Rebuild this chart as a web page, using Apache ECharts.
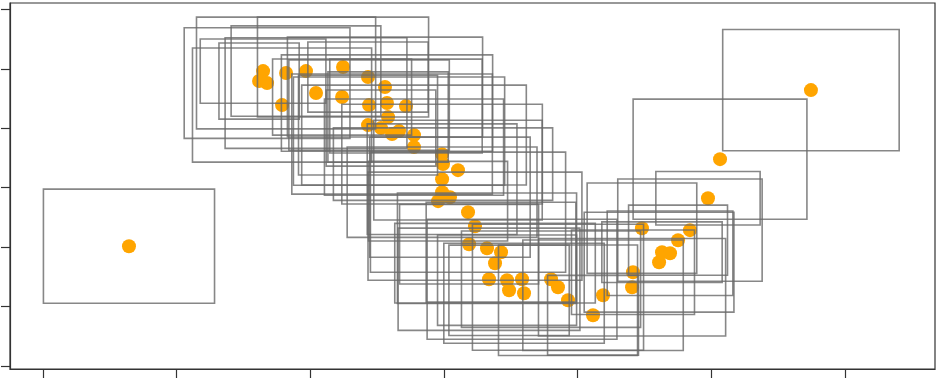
<!DOCTYPE html>
<html>
<head>
<meta charset="utf-8">
<script src="https://cdn.jsdelivr.net/npm/echarts@6/dist/echarts.min.js"></script>
<style>
    html, body { margin: 0; padding: 0; background: #fff; }
    #chart { width: 941px; height: 390px; }
</style>
</head>
<body>
<div id="chart"></div>
<script>
// point centres, with half-width / half-height of the box drawn around each one
const xValues = [
    0.645, 1.648, 1.618, 1.678, 1.820, 1.969, 1.790, 2.044, 2.246, 2.239,
    2.433, 2.560, 2.441, 2.575, 2.717, 2.583, 2.433, 2.530, 2.613, 2.665,
    2.777, 2.777, 2.987, 2.994, 3.106, 2.987, 2.987, 3.046, 2.957, 3.181,
    3.233, 3.189, 3.323, 3.428, 3.383, 3.338, 3.473, 3.585, 3.488, 3.600,
    3.802, 3.854, 3.929, 4.116, 4.191, 4.415, 4.408, 4.482, 4.610, 4.632,
    4.692, 4.752, 4.841, 4.976, 5.066, 5.746
];
const yValues = [
    2.015, 4.961, 4.793, 4.759, 4.928, 4.961, 4.389, 4.591, 5.029, 4.524,
    4.860, 4.692, 4.389, 4.423, 4.372, 4.187, 4.052, 4.002, 3.901, 3.951,
    3.884, 3.682, 3.564, 3.396, 3.295, 3.143, 2.924, 2.840, 2.773, 2.588,
    2.352, 2.049, 1.981, 1.914, 1.729, 1.460, 1.443, 1.460, 1.274, 1.224,
    1.460, 1.325, 1.106, 0.854, 1.190, 1.577, 1.325, 2.318, 1.746, 1.914,
    1.897, 2.116, 2.285, 2.823, 3.480, 4.641
];
const halfWidths = [
    0.64, 0.47, 0.30, 0.62, 0.67, 0.56, 0.67, 0.68, 0.64, 0.52,
    0.45, 0.73, 0.60, 0.79, 0.57, 0.45, 0.52, 0.41, 0.75, 0.79,
    0.84, 0.67, 0.75, 0.82, 0.63, 0.56, 0.71, 0.60, 0.52, 0.73,
    0.80, 0.52, 0.67, 0.56, 0.75, 0.68, 0.52, 0.71, 0.45, 0.60,
    0.67, 0.64, 0.52, 0.34, 0.60, 0.46, 0.70, 0.41, 0.56, 0.45,
    0.47, 0.37, 0.54, 0.39, 0.65, 0.66
];
const halfHeights = [
    0.96, 0.54, 0.64, 0.93, 0.94, 0.76, 0.96, 0.93, 0.84, 0.64,
    0.59, 0.84, 0.76, 0.81, 0.79, 0.76, 0.84, 0.64, 1.01, 0.91,
    0.84, 0.81, 0.84, 0.61, 0.84, 0.93, 0.76, 1.01, 0.67, 1.01,
    0.91, 0.67, 0.93, 0.84, 0.67, 0.86, 0.76, 1.01, 0.76, 0.84,
    0.81, 1.06, 0.93, 0.67, 0.93, 0.71, 0.82, 0.76, 0.84, 0.51,
    0.71, 0.59, 0.86, 0.45, 1.01, 1.02
];
const xTicks = [0, 1, 2, 3, 4, 5, 6];
const yTicks = [0, 1, 2, 3, 4, 5, 6];

const points = xValues.map((x, i) => [x, yValues[i]]);
const boxes = xValues.map((x, i) => [x, yValues[i], halfWidths[i], halfHeights[i]]);

function renderBox(params, api) {
    const x = api.value(0);
    const y = api.value(1);
    const w = api.value(2);
    const h = api.value(3);
    const p1 = api.coord([x - w, y + h]);
    const p2 = api.coord([x + w, y - h]);
    return {
        type: "rect",
        shape: { x: p1[0], y: p1[1], width: p2[0] - p1[0], height: p2[1] - p1[1] },
        style: { fill: "none", stroke: "rgba(105,105,105,0.8)", lineWidth: 1.6 },
    };
}

const axisColor = "#333";

const chart = echarts.init(document.getElementById("chart"), null, { renderer: "canvas" });
chart.setOption({
    animation: false,
    backgroundColor: "#fff",
    grid: {
        left: 10, right: 6, top: 3, bottom: 21,
        show: true, borderColor: axisColor, borderWidth: 1.2,
    },
    xAxis: {
        type: "value",
        min: -0.245,
        max: 6.674,
        axisLine: { show: true, onZero: false, lineStyle: { color: axisColor, width: 1.2 } },
        axisTick: { show: true, length: 9, customValues: xTicks, lineStyle: { color: axisColor, width: 1.2 } },
        axisLabel: { show: false },
        splitLine: { show: false },
    },
    yAxis: {
        type: "value",
        min: -0.05,
        max: 6.106,
        axisLine: { show: true, onZero: false, lineStyle: { color: axisColor, width: 1.2 } },
        axisTick: { show: true, length: 9, customValues: yTicks, lineStyle: { color: axisColor, width: 1.2 } },
        axisLabel: { show: false },
        splitLine: { show: false },
    },
    series: [
        {
            type: "scatter",
            data: points,
            symbolSize: 14,
            itemStyle: { color: "#FFA500", opacity: 1 },
            z: 2,
        },
        {
            type: "custom",
            data: boxes,
            renderItem: renderBox,
            encode: { x: 0, y: 1 },
            silent: true,
            z: 3,
        },
    ],
});
</script>
</body>
</html>
